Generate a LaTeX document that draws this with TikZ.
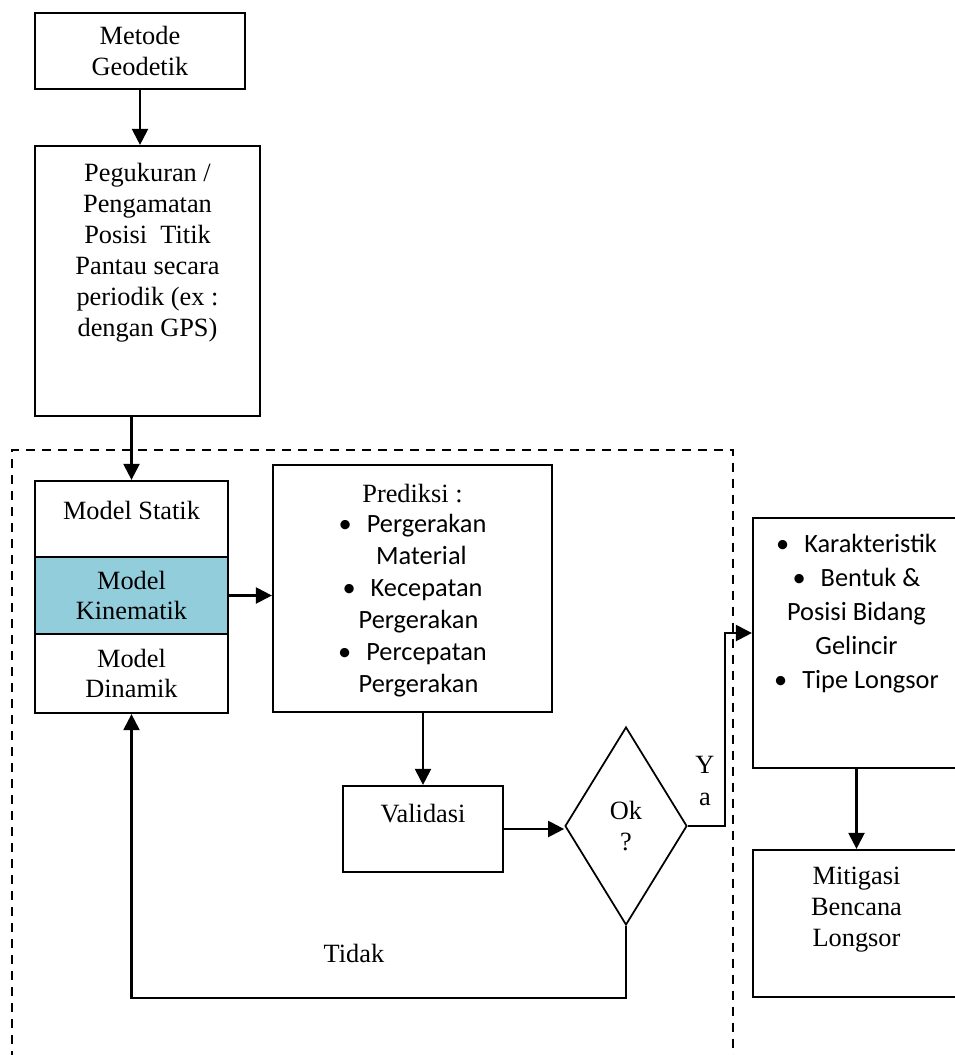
\documentclass[tikz,border=0pt]{standalone}
\usepackage{fontspec}
\setmainfont{Liberation Serif}
\setsansfont{Carlito}
\usetikzlibrary{arrows.meta,shapes.geometric}

\definecolor{kinblue}{HTML}{92CDDC}

\tikzset{
	box/.style={draw, line width=0.045cm, inner sep=0pt},
	txt/.style={font=\fontsize{15}{17.6}\selectfont, align=center, inner sep=0pt},
	bul/.style={font=\fontsize{15}{18.2}\selectfont\sffamily, align=center, inner sep=0pt},
	arr/.style={line width=0.045cm, -{Triangle[length=0.32cm,width=0.32cm]}},
	frame/.style={line width=0.045cm, dash pattern=on 0.18cm off 0.14cm}
}

\begin{document}
\begin{tikzpicture}[x=0.02cm,y=-0.02cm]
	\useasboundingbox (0,0) rectangle (955,1055);

	% dashed region
	\draw[frame] (12,1060) -- (12,450) -- (733,450) -- (733,1060);

	\node[box, txt, minimum width=4.2cm, minimum height=1.52cm] (geo) at (140,51) {Metode\\Geodetik};

	\node[box, minimum width=4.5cm, minimum height=5.4cm] (ukur) at (147.5,281) {};
	\node[txt, anchor=north] (ukurtxt) at ([yshift=-0.36cm]ukur.north) {Pegukuran /\\Pengamatan\\Posisi\ \ Titik\\Pantau secara\\periodik (ex :\\dengan GPS)};

	% model stack
	\node[box, minimum width=3.86cm, minimum height=1.52cm] (statik) at (131.5,519) {};
	\node[txt] at ([yshift=0.18cm]statik.center) {Model Statik};
	\node[box, fill=kinblue, txt, minimum width=3.86cm, minimum height=1.54cm] (kinem) at (131.5,595.5) {Model\\Kinematik};
	\node[box, txt, minimum width=3.86cm, minimum height=1.58cm] (dinam) at (131.5,673.5) {Model\\Dinamik};

	\node[box, minimum width=5.58cm, minimum height=4.94cm] (pred) at (412.5,588.5) {};
	\node[txt, anchor=north] (predhead) at ([yshift=-0.4cm]pred.north) {Prediksi :};
	\node[bul, anchor=north] (predlist) at ([yshift=-0.22cm]predhead.south) {\textbullet\hspace{0.3cm}Pergerakan\\\sffamily\ \ \ Material\\\sffamily\textbullet\hspace{0.3cm}Kecepatan\\\sffamily\ \ Pergerakan\\\sffamily\textbullet\hspace{0.3cm}Percepatan\\\sffamily\ \ Pergerakan};

	\node[box, minimum width=3.2cm, minimum height=1.72cm] (valid) at (423,829) {};
	\node[txt] at ([yshift=0.3cm]valid.center) {Validasi};

	\node[diamond, draw, line width=0.035cm, txt, minimum width=2.44cm, minimum height=3.96cm] (ok) at (626,826) {Ok\\?};

	\node[box, minimum width=4.14cm, minimum height=5cm] (ya) at (856.5,643) {};
	\node[bul, anchor=north, font=\fontsize{15}{19.3}\selectfont\sffamily] (yatxt) at ([yshift=-0.34cm]ya.north) {\textbullet\hspace{0.3cm}Karakteristik\\\sffamily\textbullet\hspace{0.3cm}Bentuk \&\\\sffamily Posisi Bidang\\\sffamily Gelincir\\\sffamily\textbullet\hspace{0.3cm}Tipe Longsor};

	\node[box, minimum width=4.14cm, minimum height=2.94cm] (mitig) at (856.5,923.5) {};
	\node[txt] at ([yshift=0.28cm]mitig.center) {Mitigasi\\Bencana\\Longsor};

	\node[txt] (ya lbl) at (705,781) {Y\\[1pt]a};
	\node[txt] (tidak) at (354,953) {Tidak};

	% connectors
	\draw[arr] (geo.south) -- (geo.south |- ukur.north);
	\draw[arr] (statik.north |- ukur.south) -- (statik.north);
	\draw[arr] (kinem.east) -- (kinem.east -| pred.west);
	\draw[arr] (valid.north |- pred.south) -- (valid.north);
	\draw[arr] (valid.east) -- (valid.east -| ok.west);
	\draw[arr] (ok.east) -- ++(37,0) |- ([yshift=0.2cm]ya.west);
	\draw[arr] (ya.south) -- (mitig.north);
	\draw[arr] (ok.south) -- (ok.south |- mitig.south) -| (dinam.south);
\end{tikzpicture}
\end{document}
